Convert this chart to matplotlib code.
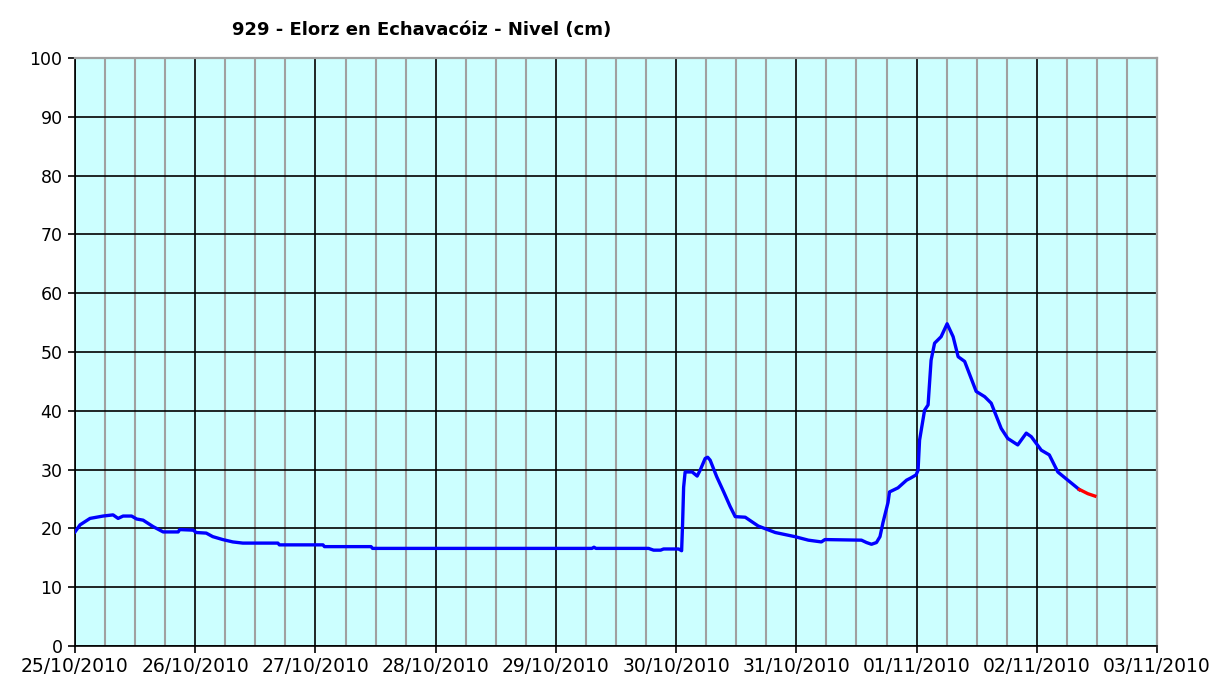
import matplotlib
matplotlib.use("Agg")
import matplotlib.pyplot as plt
import numpy as np
from datetime import datetime, timedelta
import matplotlib.dates as mdates

# Hours since 25/10/2010 00:00 and level (cm)
hours_blue = [0, 1.0, 3.0, 5.6, 7.6, 8.6, 9.6, 11.3, 12.3, 13.6, 15.6, 17.6, 20.6, 20.9,
              23.6, 24.2, 26.2, 27.5, 29.5, 31.5, 33.5, 40.5, 40.8, 49.5, 49.8, 59.1, 59.4,
              103.2, 103.6, 104.0, 114.5, 115.5, 116.9, 117.5, 120.5, 121.1, 121.3, 121.5,
              121.8, 123.2, 124.2, 124.8, 125.8, 126.3, 126.8, 128.1, 129.5, 130.8, 131.8,
              133.8, 136.4, 139.8, 143.7, 146.4, 149.0, 149.7, 157.0, 158.0, 159.0, 160.0,
              160.7, 161.3, 162.3, 162.6, 164.3, 166.0, 166.9, 167.9, 168.3, 168.6, 169.6,
              170.3, 170.9, 171.6, 172.9, 174.1, 175.3, 176.3, 177.6, 179.9, 181.6, 182.9,
              184.9, 186.2, 188.2, 189.9, 190.9, 192.9, 194.5, 196.2, 198.2, 200.5]
level_blue = [19.4, 20.6, 21.7, 22.1, 22.3, 21.7, 22.1, 22.1, 21.6, 21.4, 20.3, 19.4, 19.4, 19.8,
              19.7, 19.3, 19.2, 18.6, 18.1, 17.7, 17.5, 17.5, 17.2, 17.2, 16.9, 16.9, 16.6,
              16.6, 16.8, 16.6, 16.6, 16.3, 16.3, 16.5, 16.5, 16.2, 21.0, 27.0,
              29.6, 29.6, 28.9, 29.9, 31.9, 32.1, 31.6, 28.8, 26.2, 23.7, 22.0,
              21.9, 20.4, 19.3, 18.6, 18.0, 17.7, 18.1, 18.0, 17.6, 17.3, 17.6,
              18.6, 21.0, 24.4, 26.2, 26.9, 28.2, 28.6, 29.1, 29.9, 35.0, 40.1,
              41.0, 48.6, 51.5, 52.6, 54.8, 52.6, 49.2, 48.4, 43.3, 42.4, 41.3,
              37.0, 35.3, 34.2, 36.2, 35.6, 33.3, 32.5, 29.6, 28.2, 26.6]
hours_red = [200.5, 200.8, 202.2, 203.6]
level_red = [26.6, 26.5, 25.9, 25.5]

title = "929 - Elorz en Echavacóiz - Nivel (cm)"
start = datetime(2010, 10, 25)
n_days = 9

t_blue = [start + timedelta(hours=h) for h in hours_blue]
t_red = [start + timedelta(hours=h) for h in hours_red]

fig = plt.figure(figsize=(12.15, 6.81), dpi=100)
ax = fig.add_axes([75/1215, 1-646/681, (1157-75)/1215, (646-58)/681])
ax.set_facecolor("#CCFFFF")

ax.set_xlim(mdates.date2num(start), mdates.date2num(start + timedelta(days=n_days)))
ax.set_ylim(0, 100)

ax.xaxis.set_major_locator(mdates.DayLocator())
ax.xaxis.set_major_formatter(mdates.DateFormatter("%d/%m/%Y"))
ax.xaxis.set_minor_locator(mdates.HourLocator(byhour=[6, 12, 18]))
ax.yaxis.set_major_locator(plt.MultipleLocator(10))

ax.grid(which="minor", axis="x", color="#A0A0A0", linewidth=1.5, zorder=0)
ax.grid(which="major", axis="x", color="black", linewidth=1.2, zorder=1)
ax.grid(which="major", axis="y", color="black", linewidth=1.2, zorder=1)
ax.set_axisbelow(True)

ax.plot(t_blue, level_blue, color="#0000FF", linewidth=2.4, zorder=3, solid_joinstyle="round")
ax.plot(t_red, level_red, color="#FF0000", linewidth=2.4, zorder=3)

for s in ["top", "right"]:
    ax.spines[s].set_color("#A0A0A0")
    ax.spines[s].set_linewidth(1.6)
for s in ["left", "bottom"]:
    ax.spines[s].set_color("black")
    ax.spines[s].set_linewidth(1.2)

ax.tick_params(axis="both", which="major", direction="out", length=5, width=1.2, color="black")
ax.tick_params(axis="x", which="major", labelsize=13.5, pad=3)
ax.tick_params(axis="y", which="major", labelsize=12.5, pad=4)
ax.tick_params(axis="x", which="minor", length=0)

fig.text(422/1215, 1-30/681, title, ha="center", va="center", fontsize=13, fontweight="bold")

fig.savefig("out.png", dpi=100, facecolor="white")
